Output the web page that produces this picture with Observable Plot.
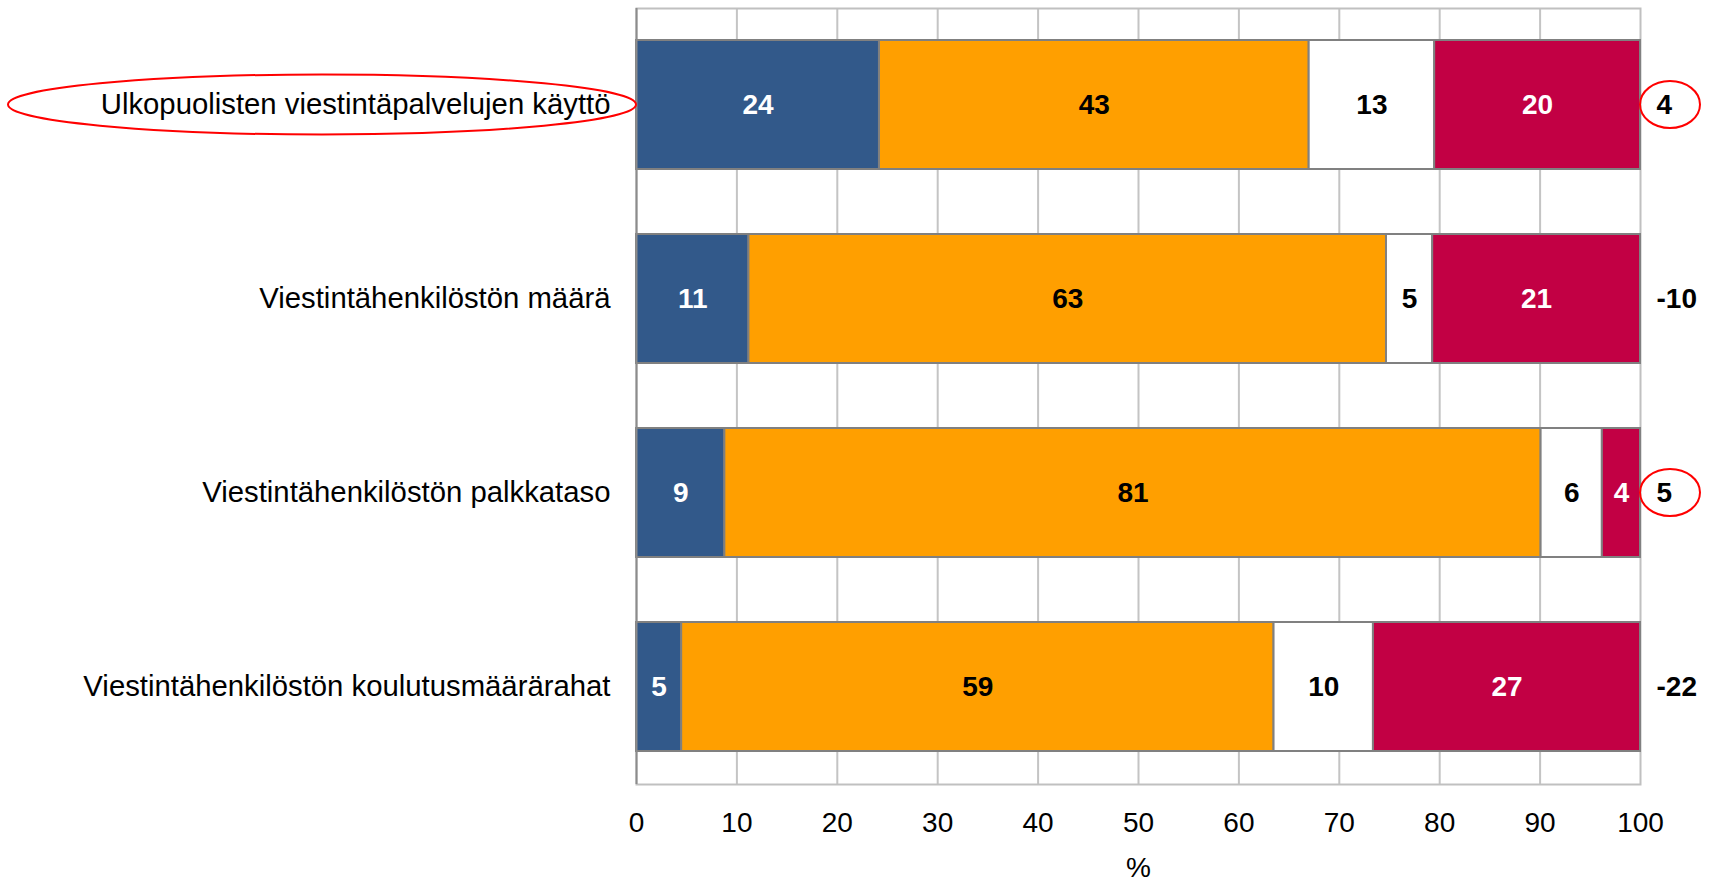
<!DOCTYPE html>
<html>
<head>
<meta charset="utf-8">
<script src="https://cdn.jsdelivr.net/npm/d3@7"></script>
<script src="https://cdn.jsdelivr.net/npm/@observablehq/plot@0.6"></script>
<style>
  html, body { margin: 0; padding: 0; background: #fff; }
  svg { display: block; }
</style>
</head>
<body>
<div id="chart"></div>
<script>
// ---- data ----
const categories = [
  "Ulkopuolisten viestintäpalvelujen käyttö",
  "Viestintähenkilöstön määrä",
  "Viestintähenkilöstön palkkataso",
  "Viestintähenkilöstön koulutusmäärärahat"
];
const seriesKeys = ["blue", "orange", "white", "red"];
// segment widths (%) as measured
const blueValues   = [24.2, 11.2, 8.8, 4.5];
const orangeValues = [42.8, 63.5, 81.3, 59.0];
const whiteValues  = [12.5, 4.6, 6.1, 9.9];
const redValues    = [20.5, 20.7, 3.8, 26.6];
// printed labels
const blueLabels   = [24, 11, 9, 5];
const orangeLabels = [43, 63, 81, 59];
const whiteLabels  = [13, 5, 6, 10];
const redLabels    = [20, 21, 4, 27];
const netLabels    = [4, -10, 5, -22];
const xTicks = [0, 10, 20, 30, 40, 50, 60, 70, 80, 90, 100];
const highlightedNet = ["Ulkopuolisten viestintäpalvelujen käyttö", "Viestintähenkilöstön palkkataso"];
const highlightedCategory = ["Ulkopuolisten viestintäpalvelujen käyttö"];

// ---- styles ----
const seriesFill = {blue: "#32598a", orange: "#ff9f00", white: "#ffffff", red: "#c20044"};
const seriesText = {blue: "#ffffff", orange: "#000000", white: "#000000", red: "#ffffff"};
const FONT = "'Liberation Sans', Arial, Helvetica, sans-serif";

// ---- build table ----
const valuesBySeries = {blue: blueValues, orange: orangeValues, white: whiteValues, red: redValues};
const labelsBySeries = {blue: blueLabels, orange: orangeLabels, white: whiteLabels, red: redLabels};
const segments = [];
categories.forEach((cat, i) => {
  let acc = 0;
  for (const s of seriesKeys) {
    const v = valuesBySeries[s][i];
    segments.push({cat, series: s, x1: acc, x2: acc + v, label: String(labelsBySeries[s][i]),
                   fill: seriesFill[s], textFill: seriesText[s]});
    acc += v;
  }
});
const netData = categories.map((cat, i) => ({cat, label: String(netLabels[i])}));

const plot = Plot.plot({
  width: 1713,
  height: 882,
  marginLeft: 636,
  marginRight: 73,
  marginTop: 8,
  marginBottom: 98,
  style: {fontFamily: FONT, fontSize: "28px", color: "#000", background: "#fff"},
  x: {domain: [0, 100], label: null},
  y: {domain: categories, paddingInner: 0.335, paddingOuter: 0.1675, label: null},
  color: {type: "identity"},
  marks: [
    Plot.gridX(xTicks.filter(t => t > 0 && t < 100), {stroke: "#c4c4c4", strokeOpacity: 1, strokeWidth: 2}),
    Plot.frame({stroke: "#c0c0c0", strokeWidth: 2}),
    Plot.barX(segments, {x1: "x1", x2: "x2", y: "cat", fill: "fill", stroke: "#808080", strokeWidth: 2}),
    Plot.ruleX([0], {stroke: "#8c8c8c", strokeWidth: 2}),
    Plot.text(segments, {x: d => (d.x1 + d.x2) / 2, y: "cat", text: "label", fill: "textFill",
                         fontWeight: "bold", fontSize: 28}),
    Plot.text(netData, {x: () => 100, y: "cat", text: "label", textAnchor: "start", dx: 16,
                        fontWeight: "bold", fontSize: 28, fill: "#000"}),
    Plot.axisX({ticks: xTicks, tickSize: 0, tickPadding: 28, fontSize: 28, label: null, tickFormat: d => String(d)}),
    Plot.axisY({tickSize: 0, tickPadding: 26, fontSize: 29.3, label: null}),
    Plot.text(["%"], {frameAnchor: "bottom", dy: 92, text: d => d, fontSize: 28, fill: "#000"})
  ]
});

// ---- red ellipse annotations, positioned from the plot's scales ----
const xs = plot.scale("x");
const ys = plot.scale("y");
const bw = ys.bandwidth;
const svg = d3.select(plot);
const g = svg.append("g").attr("fill", "none").attr("stroke", "#ff0000").attr("stroke-width", 2);
for (const cat of highlightedCategory) {
  const cy = ys.apply(cat) + bw / 2;
  const right = xs.apply(0);
  const left = 8;
  g.append("ellipse").attr("cx", (left + right) / 2).attr("cy", cy)
    .attr("rx", (right - left) / 2).attr("ry", 30);
}
for (const cat of highlightedNet) {
  const cy = ys.apply(cat) + bw / 2;
  g.append("ellipse").attr("cx", xs.apply(100) + 30).attr("cy", cy).attr("rx", 30).attr("ry", 23.5);
}

document.getElementById("chart").appendChild(plot);
</script>
</body>
</html>
